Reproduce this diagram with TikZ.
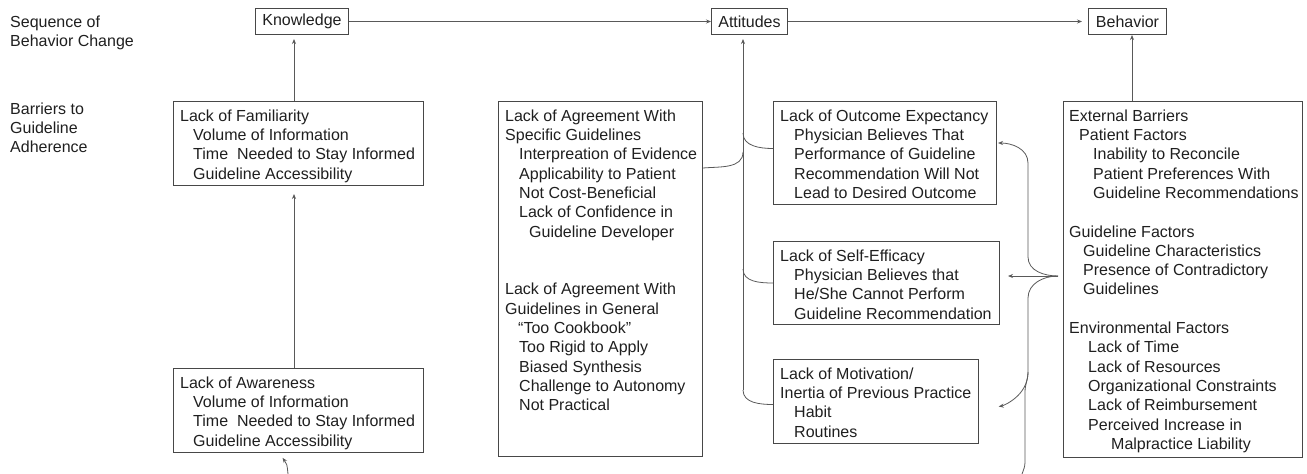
\documentclass[tikz,border=0pt]{standalone}
\usepackage{fontspec}
\setmainfont{Liberation Sans}
\usetikzlibrary{arrows.meta,calc}
\begin{document}
\begin{tikzpicture}[x=1pt,y=-1pt,
  every node/.style={font=\fontsize{16}{19.3}\selectfont, text=black!88},
  topbox/.style={draw=black!72, line width=1pt, minimum height=26pt, inner sep=0pt, anchor=north west},
  frame/.style={draw=black!72, line width=1pt, inner sep=0pt, anchor=north west},
  txt/.style={anchor=north west, inner sep=0pt, align=left},
  conn/.style={draw=black!65, line width=0.8pt},
  arr/.style={conn, -{Stealth[length=5pt,width=4pt]}},
]
\useasboundingbox (0,0) rectangle (1307,474);

% row labels
\node[txt] (seq) at (10,13.5) {\strut Sequence of\\Behavior Change};
\node[txt] (bar) at (10,100.5) {\strut Barriers to\\Guideline\\Adherence};

% top row
\node[topbox, minimum width=93pt] (know) at (255,8) {Knowledge};
\node[topbox, minimum width=76pt] (att) at (711,8) {Attitudes};
\node[topbox, minimum width=78pt] (beh) at (1088,8) {Behavior};

% barrier frames
\node[frame, minimum width=250pt, minimum height=84pt] (fam) at (173,101) {};
\node[txt] (famt) at (180,107.5) {\strut Lack of Familiarity\\
\hspace*{13pt}Volume of Information\\
\hspace*{13pt}Time\ \ Needed to Stay Informed\\
\hspace*{13pt}Guideline Accessibility};

\node[frame, minimum width=250pt, minimum height=84pt] (aw) at (173,368) {};
\node[txt] (awt) at (180,374.5) {\strut Lack of Awareness\\
\hspace*{13pt}Volume of Information\\
\hspace*{13pt}Time\ \ Needed to Stay Informed\\
\hspace*{13pt}Guideline Accessibility};

\node[frame, minimum width=204pt, minimum height=355pt] (agr) at (498,101) {};
\node[txt] (agrt) at (505,107.5) {\strut Lack of Agreement With\\
Specific Guidelines\\
\hspace*{14pt}Interpreation of Evidence\\
\hspace*{14pt}Applicability to Patient\\
\hspace*{14pt}Not Cost-Beneficial\\
\hspace*{14pt}Lack of Confidence in\\
\hspace*{24pt}Guideline Developer\\[38.6pt]
Lack of Agreement With\\
Guidelines in General\\
\hspace*{13pt}“Too Cookbook”\\
\hspace*{14pt}Too Rigid to Apply\\
\hspace*{14pt}Biased Synthesis\\
\hspace*{14pt}Challenge to Autonomy\\
\hspace*{14pt}Not Practical};

\node[frame, minimum width=223pt, minimum height=103pt] (outc) at (773,101) {};
\node[txt] (outct) at (780,107.5) {\strut Lack of Outcome Expectancy\\
\hspace*{14pt}Physician Believes That\\
\hspace*{14pt}Performance of Guideline\\
\hspace*{14pt}Recommendation Will Not\\
\hspace*{14pt}Lead to Desired Outcome};

\node[frame, minimum width=226pt, minimum height=83pt] (eff) at (773,241) {};
\node[txt] (efft) at (780,247.5) {\strut Lack of Self-Efficacy\\
\hspace*{14pt}Physician Believes that\\
\hspace*{14pt}He/She Cannot Perform\\
\hspace*{14pt}Guideline Recommendation};

\node[frame, minimum width=205pt, minimum height=84pt] (mot) at (773,359) {};
\node[txt] (mott) at (780,365.5) {\strut Lack of Motivation/\\
Inertia of Previous Practice\\
\hspace*{14pt}Habit\\
\hspace*{14pt}Routines};

\node[frame, minimum width=239pt, minimum height=356pt] (ext) at (1063,101) {};
\node[txt] (extt) at (1069,107.5) {\strut External Barriers\\
\hspace*{10pt}Patient Factors\\
\hspace*{24pt}Inability to Reconcile\\
\hspace*{24pt}Patient Preferences With\\
\hspace*{24pt}Guideline Recommendations\\[19.3pt]
Guideline Factors\\
\hspace*{14pt}Guideline Characteristics\\
\hspace*{14pt}Presence of Contradictory\\
\hspace*{14pt}Guidelines\\[19.3pt]
Environmental Factors\\
\hspace*{19pt}Lack of Time\\
\hspace*{19pt}Lack of Resources\\
\hspace*{19pt}Organizational Constraints\\
\hspace*{19pt}Lack of Reimbursement\\
\hspace*{19pt}Perceived Increase in\\
\hspace*{42pt}Malpractice Liability};

% helper coordinates
\coordinate (kx) at (294,0);
\coordinate (vx) at (743,0);
\coordinate (bx) at (1132,0);
\coordinate (vbot) at (743,390);
\coordinate (J) at (1058,276);
\coordinate (oy) at (0,143);
\coordinate (my) at (0,410);
\coordinate (awin) at (288,474);
\coordinate (dn) at (1022,474);

% top sequence
\draw[arr] (know.east) -- (att.west);
\draw[arr, shorten >=6pt] (att.east) -- (beh.west);

% knowledge column
\draw[arr, shorten >=4pt] (fam.north -| kx) -- (know.south -| kx);
\draw[arr, shorten >=8pt] (aw.north -| kx) -- (fam.south -| kx);
\draw[arr, shorten >=6pt] (awin) .. controls (287,464) .. (aw.south -| 279,0);

% attitudes column
\draw[arr, shorten >=4pt] (vbot) -- (att.south -| vx);
\draw[conn] ($(agr.north east)+(0,67)$) to[out=5,in=-90] (743,152);
\draw[conn] (743,133) to[out=-90,in=180] ([yshift=4.5pt]outc.west);
\draw[conn] (743,269) to[out=-90,in=180] (eff.west);
\draw[conn] (vbot) to[out=-90,in=180] ([yshift=-3pt]mot.west);

% behavior column
\draw[arr] (ext.north -| bx) -- (beh.south -| bx);
\draw[arr, shorten >=8pt] (J) -- (eff.east |- J);
\draw[arr, shorten >=1pt] (J) to[out=180,in=-90] (1028,257) -- (1028,163) to[out=90,in=0] (outc.east |- oy);
\draw[arr, shorten >=20pt] (J) to[out=180,in=90] (1028,298) -- (1028,372) to[out=-90,in=10] (mot.east |- my);
\draw[conn] (1028,372) to[out=-90,in=90] (1025,392) -- (1025,462) to[out=-90,in=70] (dn);
\end{tikzpicture}
\end{document}
